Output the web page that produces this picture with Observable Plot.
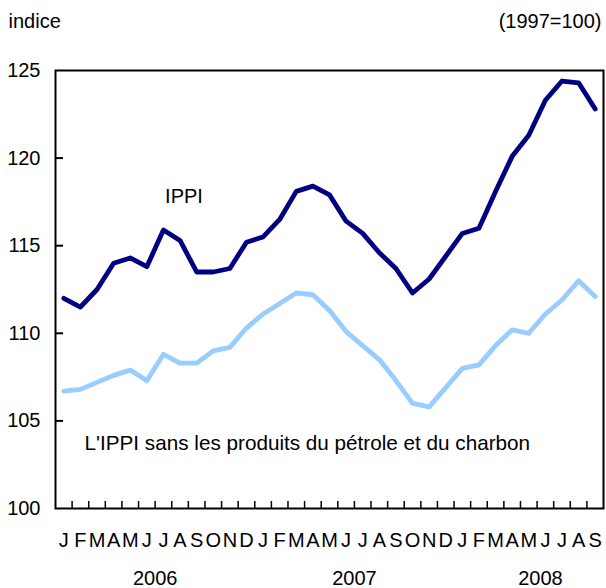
<!DOCTYPE html>
<html>
<head>
<meta charset="utf-8">
<script src="https://cdn.jsdelivr.net/npm/d3@7"></script>
<script src="https://cdn.jsdelivr.net/npm/@observablehq/plot@0.6"></script>
<style>
  body { margin: 0; background: #fff; }
  svg { font-family: "Liberation Sans", Arial, Helvetica, sans-serif; }
</style>
</head>
<body>
<div id="chart"></div>
<script>
const monthLabels = ["J","F","M","A","M","J","J","A","S","O","N","D",
                     "J","F","M","A","M","J","J","A","S","O","N","D",
                     "J","F","M","A","M","J","J","A","S"];
const ippi = [112.0,111.5,112.5,114.0,114.3,113.8,115.9,115.3,113.5,113.5,113.7,115.2,
              115.5,116.5,118.1,118.4,117.9,116.4,115.7,114.6,113.7,112.3,113.1,114.4,
              115.7,116.0,118.1,120.1,121.3,123.3,124.4,124.3,122.8];
const ippiSans = [106.7,106.8,107.2,107.6,107.9,107.3,108.8,108.3,108.3,109.0,109.2,110.3,
                  111.1,111.7,112.3,112.2,111.3,110.1,109.3,108.5,107.3,106.0,105.8,106.9,
                  108.0,108.2,109.3,110.2,110.0,111.1,111.9,113.0,112.1];
const yTicks = [100,105,110,115,120,125];
const yearLabels = ["2006","2007","2008"];
const yearCenters = [6, 18, 29.2];   // in month units
const seriesLabels = [
  {text: "IPPI", m: 6.6, v: 117.8},
  {text: "L'IPPI sans les produits du pétrole et du charbon", m: 1.75, v: 103.7}
];

const n = monthLabels.length;
const rows = [];
ippi.forEach((v, i) => rows.push({m: i + 0.5, v, s: "IPPI"}));
ippiSans.forEach((v, i) => rows.push({m: i + 0.5, v, s: "sans"}));

const W = 606, H = 588;
const mL = 55, mR = 3, mT = 70, mB = 80;
const pxPerY = (H - mT - mB) / 25;
const pxPerX = (W - mL - mR) / n;

const chart = Plot.plot({
  width: W, height: H,
  marginLeft: mL, marginRight: mR, marginTop: mT, marginBottom: mB,
  x: {domain: [0, n], axis: null},
  y: {domain: [100, 125], axis: null},
  style: {fontSize: "20px", fontFamily: "'Liberation Sans', Arial, Helvetica, sans-serif", background: "white"},
  marks: [
    // inner ticks on x axis (month boundaries)
    Plot.ruleX(d3.range(1, n), {x: d => d, y1: 100, y2: 100 + 7 / pxPerY, stroke: "black", strokeWidth: 1.5}),
    // inner ticks on y axis
    Plot.ruleY(yTicks.slice(1, -1), {y: d => d, x1: 0, x2: 8 / pxPerX, stroke: "black", strokeWidth: 2}),
    Plot.line(rows, {x: "m", y: "v", z: "s", stroke: d => d.s === "IPPI" ? "#000080" : "#99ccff",
      strokeWidth: 4.8, strokeLinejoin: "round", strokeLinecap: "round"}),
    Plot.frame({stroke: "black", strokeWidth: 2}),
    // y tick labels
    Plot.text(yTicks, {x: 0, y: d => d, text: d => String(d), textAnchor: "end", dx: -15, fill: "black"}),
    // month labels
    Plot.text(monthLabels, {x: (d, i) => i + 0.5, y: 100, text: d => d, dy: 32, fill: "black"}),
    // year labels
    Plot.text(yearLabels, {x: (d, i) => yearCenters[i], y: 100, text: d => d, dy: 70, fill: "black"}),
    // series labels
    Plot.text(seriesLabels.slice(0, 1), {x: "m", y: "v", text: "text", textAnchor: "start", fill: "black"}),
    Plot.text(seriesLabels.slice(1), {x: "m", y: "v", text: "text", textAnchor: "start", fill: "black", fontSize: 20.7}),
    // header texts
    Plot.text(["indice"], {x: 0, y: 125, text: d => d, textAnchor: "start", dx: -47, dy: -49, fill: "black"}),
    Plot.text(["(1997=100)"], {x: n, y: 125, text: d => d, textAnchor: "end", dx: -2, dy: -49, fill: "black"})
  ]
});
document.getElementById("chart").appendChild(chart);
</script>
</body>
</html>
